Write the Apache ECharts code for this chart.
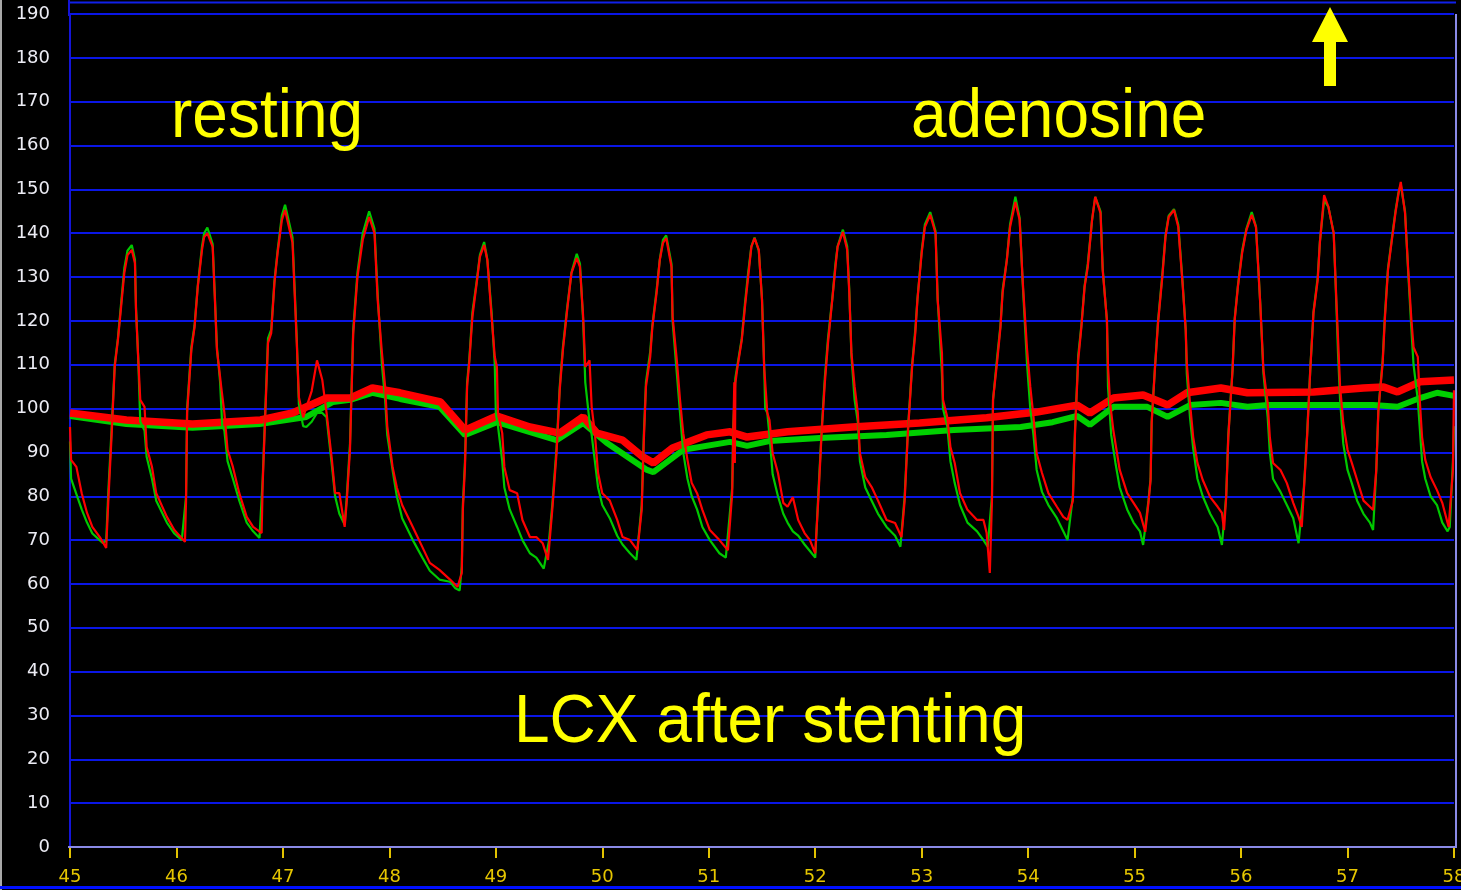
<!DOCTYPE html>
<html>
<head>
<meta charset="utf-8">
<script src="https://cdn.jsdelivr.net/npm/echarts@6/dist/echarts.min.js"></script>
<style>
html,body{margin:0;padding:0;background:#000;}
#chart{width:1461px;height:890px;}
</style>
</head>
<body>
<div id="chart"></div>
<script>
// ---- data (time in s, pressure in mmHg) ----
const xTicks = [45,46,47,48,49,50,51,52,53,54,55,56,57,58];
const yTicks = [0,10,20,30,40,50,60,70,80,90,100,110,120,130,140,150,160,170,180,190];

const pdPulse = [ // red pulsatile trace
[45.00,95.8],[45.01,88.3],[45.06,86.7],[45.11,80.7],[45.16,76.2],[45.21,73.0],[45.28,70.7],[45.34,68.2],
[45.36,79.0],[45.39,93.5],[45.42,109.5],[45.45,115.6],[45.48,123.2],[45.51,130.9],[45.54,135.0],[45.58,136.2],
[45.61,133.2],[45.62,122.5],[45.64,111.8],[45.66,102.0],[45.70,100.4],[45.72,91.2],[45.77,86.7],[45.81,80.7],[45.91,75.3],[45.98,72.3],[46.08,69.6],
[46.09,79.0],[46.10,99.0],[46.14,113.4],[46.17,118.6],[46.20,127.7],[46.24,136.2],[46.26,139.1],[46.29,140.0],
[46.34,136.9],[46.36,125.5],[46.38,113.4],[46.41,107.2],[46.42,105.0],[46.45,99.0],[46.48,90.6],[46.53,86.7],[46.59,80.7],[46.66,75.3],[46.72,73.0],[46.80,71.6],
[46.81,83.0],[46.83,95.8],[46.86,115.0],[46.89,117.2],[46.92,128.6],[46.95,135.5],[46.99,143.0],[47.02,145.3],
[47.09,137.8],[47.13,115.0],[47.15,102.6],[47.19,98.0],[47.27,104.0],[47.32,111.0],[47.37,106.5],[47.41,99.0],[47.46,88.3],[47.49,80.7],[47.53,80.7],[47.58,73.0],
[47.60,79.0],[47.63,90.6],[47.66,117.0],[47.70,130.0],[47.75,138.5],[47.81,143.7],
[47.86,140.0],[47.89,124.8],[47.93,112.7],[47.96,105.0],[47.98,96.0],[48.03,86.7],[48.07,82.0],[48.12,78.0],[48.22,73.0],[48.31,68.4],[48.38,64.8],[48.47,63.2],[48.57,61.0],[48.64,59.3],
[48.68,62.5],[48.69,76.9],[48.71,86.7],[48.73,105.0],[48.75,110.4],[48.78,121.0],[48.82,128.6],[48.85,134.6],[48.89,137.3],
[48.92,133.9],[48.96,121.0],[48.99,111.8],[49.01,109.5],[49.02,99.0],[49.06,94.4],[49.08,86.7],[49.13,81.4],[49.20,80.7],[49.25,74.6],[49.32,70.7],[49.38,70.7],[49.44,69.3],[49.49,65.5],
[49.53,76.9],[49.57,89.8],[49.60,104.2],[49.63,113.4],[49.67,122.5],[49.71,130.9],[49.76,134.3],
[49.79,132.3],[49.82,121.0],[49.84,109.5],[49.88,111.0],[49.90,100.4],[49.93,94.4],[49.96,85.3],[50.00,80.7],[50.07,79.0],[50.14,74.6],[50.19,70.7],[50.26,70.0],[50.33,67.7],
[50.37,76.9],[50.39,92.8],[50.41,105.0],[50.45,111.8],[50.47,118.6],[50.51,126.4],[50.54,133.9],[50.57,137.8],[50.60,138.9],
[50.65,132.3],[50.66,121.0],[50.70,111.0],[50.73,102.0],[50.76,94.4],[50.80,88.3],[50.84,83.0],[50.89,80.7],[50.94,76.9],[51.01,72.3],[51.10,70.0],[51.18,67.7],
[51.22,80.7],[51.23,94.4],[51.24,106.0],[51.245,87.6],[51.25,105.8],[51.27,109.5],[51.31,115.6],[51.34,123.2],[51.37,130.0],[51.40,136.9],[51.43,138.9],
[51.47,136.2],[51.50,124.8],[51.52,109.5],[51.55,99.0],[51.57,97.4],[51.60,89.8],[51.65,85.3],[51.70,78.5],[51.74,77.6],[51.79,79.8],[51.84,74.6],[51.90,71.6],[51.95,70.0],[52.00,67.0],
[52.03,79.8],[52.06,94.4],[52.09,105.8],[52.12,115.0],[52.16,124.8],[52.19,132.3],[52.21,136.9],[52.26,140.3],
[52.30,136.2],[52.32,126.4],[52.34,112.7],[52.37,105.0],[52.40,99.0],[52.42,89.8],[52.47,84.4],[52.53,82.1],[52.59,79.0],[52.67,74.6],[52.75,73.9],[52.81,70.7],
[52.84,79.0],[52.87,94.4],[52.91,109.5],[52.94,117.2],[52.96,124.8],[53.00,135.5],[53.03,141.4],[53.08,144.2],
[53.13,140.0],[53.15,124.8],[53.19,112.7],[53.20,102.0],[53.24,98.1],[53.27,91.2],[53.31,87.6],[53.36,80.7],[53.43,76.9],[53.52,74.6],[53.58,74.6],[53.61,71.6],[53.64,62.5],
[53.66,79.0],[53.67,102.0],[53.71,111.0],[53.74,118.6],[53.76,126.4],[53.80,133.9],[53.83,141.4],[53.88,147.1],
[53.92,143.0],[53.95,128.6],[53.99,113.4],[54.02,105.0],[54.05,98.1],[54.08,89.8],[54.13,85.3],[54.19,80.7],[54.27,77.6],[54.33,75.3],[54.37,74.6],
[54.42,79.0],[54.44,94.4],[54.47,111.0],[54.50,118.6],[54.53,127.7],[54.56,132.3],[54.60,143.0],[54.63,148.3],
[54.68,144.6],[54.70,131.6],[54.74,120.2],[54.75,109.5],[54.77,101.3],[54.80,95.1],[54.86,86.0],[54.93,80.7],[54.99,78.5],[55.05,76.2],[55.10,71.9],
[55.13,78.5],[55.15,83.7],[55.16,96.7],[55.19,108.8],[55.22,119.5],[55.26,130.0],[55.29,139.1],[55.32,143.7],[55.37,145.3],
[55.41,141.4],[55.45,128.6],[55.48,117.9],[55.49,110.4],[55.52,101.3],[55.55,93.5],[55.59,87.6],[55.64,83.7],[55.71,79.8],[55.78,77.6],[55.82,76.2],[55.84,72.3],
[55.86,79.8],[55.88,93.5],[55.92,108.8],[55.94,120.2],[55.97,127.7],[56.01,135.5],[56.05,140.7],[56.10,144.2],
[56.14,141.4],[56.18,124.0],[56.21,108.8],[56.25,101.3],[56.27,93.5],[56.30,87.6],[56.37,86.0],[56.43,83.0],[56.49,78.5],[56.54,75.3],[56.57,73.0],
[56.59,81.4],[56.62,93.5],[56.65,108.8],[56.68,121.8],[56.72,129.3],[56.74,137.8],[56.78,148.7],
[56.82,146.0],[56.87,140.0],[56.89,127.7],[56.91,116.3],[56.93,105.0],[56.96,96.7],[57.00,90.6],[57.04,87.6],[57.09,83.7],[57.15,79.0],[57.21,77.6],[57.24,76.9],
[57.27,86.0],[57.29,99.7],[57.33,110.4],[57.35,120.2],[57.38,131.6],[57.42,139.1],[57.45,144.6],[57.48,149.2],[57.50,151.7],
[57.54,144.6],[57.57,131.6],[57.60,120.2],[57.62,114.0],[57.66,111.8],[57.68,101.3],[57.70,93.5],[57.73,88.3],[57.78,84.4],[57.84,81.4],[57.89,78.5],[57.94,73.9],[57.95,73.0],
[57.99,86.0],[58.00,104.2]
];

const paPulse = [ // green pulsatile trace
[45.00,92.5],[45.01,84],[45.06,80.5],[45.11,77],[45.16,74],[45.21,71.5],[45.31,69.3],[45.34,70],
[45.36,81],[45.39,95],[45.42,110],[45.45,116],[45.48,124],[45.51,132],[45.54,136],[45.58,137.3],
[45.61,134],[45.62,123],[45.64,112],[45.66,97],[45.70,95],[45.72,89],[45.77,84],[45.81,79],[45.91,74],[45.98,71.5],[46.05,70],
[46.09,80],[46.10,100],[46.14,114],[46.17,119],[46.20,128],[46.24,137],[46.26,140],[46.29,141.3],
[46.34,137.5],[46.36,126],[46.38,114],[46.41,106],[46.43,96],[46.45,95],[46.48,88],[46.53,84],[46.59,79],[46.66,74],[46.72,72],[46.78,70.5],
[46.81,84],[46.83,97],[46.86,116],[46.89,118],[46.92,129],[46.95,136],[46.99,144],[47.02,146.5],
[47.09,139],[47.13,116],[47.15,101],[47.19,96],[47.22,95.8],[47.27,97],[47.32,99],[47.37,99],[47.41,98],[47.46,87],[47.49,80],[47.53,76],[47.58,73.5],
[47.60,80],[47.63,92],[47.66,118],[47.70,131],[47.75,140],[47.81,145],
[47.86,141],[47.89,126],[47.93,110],[47.96,102],[47.98,94],[48.03,86],[48.07,80],[48.12,75],[48.22,70],[48.31,66],[48.38,63],[48.47,61],[48.57,60.5],[48.62,59],[48.66,58.5],
[48.68,64],[48.69,78],[48.71,88],[48.73,106],[48.75,111],[48.78,122],[48.82,129],[48.85,135],[48.89,138],
[48.92,134],[48.96,122],[48.99,110],[49.00,99],[49.02,96],[49.06,88],[49.08,82],[49.13,77],[49.20,73],[49.25,70],[49.32,67],[49.38,66],[49.45,63.5],
[49.50,70],[49.53,78],[49.57,91],[49.60,105],[49.63,114],[49.67,123],[49.71,131],[49.76,135.3],
[49.79,133],[49.82,120],[49.84,106],[49.88,97],[49.90,94],[49.93,88],[49.96,82],[50.00,78],[50.07,75],[50.14,71],[50.19,69],[50.26,67],[50.32,65.5],
[50.37,78],[50.39,94],[50.41,106],[50.45,113],[50.47,119],[50.51,127],[50.54,134],[50.57,138.5],[50.60,139.5],
[50.65,133],[50.66,120],[50.70,108],[50.73,99],[50.76,90],[50.80,84],[50.84,80],[50.89,77],[50.94,73],[51.01,70],[51.10,67],[51.16,66],
[51.22,82],[51.23,96],[51.25,107],[51.27,110],[51.31,116],[51.34,124],[51.37,131],[51.40,137],[51.43,139],
[51.47,136],[51.50,125],[51.52,110],[51.53,100],[51.55,99],[51.57,94],[51.60,85],[51.65,80],[51.70,76],[51.74,74],[51.79,72],[51.84,71],[51.90,69],[51.95,67.5],[52.00,66],
[52.03,81],[52.06,95],[52.09,107],[52.12,116],[52.16,125],[52.19,133],[52.21,137],[52.26,140.8],
[52.30,137],[52.32,127],[52.34,112],[52.37,102],[52.40,97],[52.42,88],[52.47,82],[52.53,79],[52.59,76],[52.67,73],[52.75,71],[52.80,68.5],
[52.84,80],[52.87,95],[52.91,110],[52.94,118],[52.96,125],[53.00,136],[53.03,142],[53.08,144.8],
[53.13,140.5],[53.15,125],[53.19,108],[53.20,100],[53.24,96],[53.27,88],[53.31,83],[53.36,78],[53.43,74],[53.52,72],[53.58,70],[53.62,68.5],
[53.66,80],[53.67,102],[53.71,112],[53.74,119],[53.76,127],[53.80,134],[53.83,142],[53.88,148.3],
[53.92,143.5],[53.95,128],[53.99,110],[54.02,100],[54.05,94],[54.08,86],[54.13,81],[54.19,78],[54.27,75],[54.33,72],[54.37,70],
[54.42,80],[54.44,95],[54.47,112],[54.50,119],[54.53,128],[54.56,133],[54.60,143],[54.63,148.3],
[54.68,145],[54.70,132],[54.74,120],[54.75,105],[54.78,94],[54.82,87.6],[54.86,82],[54.93,77],[54.99,74],[55.05,72],[55.08,68.9],
[55.13,79],[55.15,84],[55.16,97],[55.19,109],[55.22,120],[55.26,130.5],[55.29,139.5],[55.32,144],[55.37,145.5],
[55.41,142],[55.45,129],[55.48,118],[55.49,108],[55.52,98],[55.55,91],[55.59,84],[55.64,80],[55.71,76],[55.78,73],[55.82,68.9],
[55.86,80],[55.88,94],[55.92,109],[55.94,120.5],[55.97,128],[56.01,136],[56.05,141],[56.10,144.8],
[56.14,141.5],[56.18,124],[56.21,108],[56.25,98],[56.27,90],[56.30,84],[56.37,81],[56.43,78],[56.49,75],[56.54,69.3],
[56.59,82],[56.62,94],[56.65,109],[56.68,122],[56.72,130],[56.74,138],[56.78,147.5],
[56.82,146],[56.87,140],[56.89,127],[56.91,113],[56.93,102],[56.96,92],[57.00,86],[57.04,83],[57.09,79],[57.15,76],[57.21,74],[57.24,72.3],
[57.27,86],[57.29,100],[57.33,111],[57.35,121],[57.38,132],[57.42,139.5],[57.45,145],[57.48,149.5],[57.50,151],
[57.54,145],[57.57,131],[57.60,118],[57.62,110],[57.66,102],[57.68,95],[57.70,88],[57.73,84],[57.78,80],[57.84,78],[57.89,74],[57.94,72],[57.96,73],
[57.99,88],[58.00,96]
];

const pdMean = [ // thick red mean trace
[45.00,99.0],[45.53,97.4],[46.15,96.5],[46.79,97.4],[47.09,99.0],[47.41,102.4],[47.63,102.4],[47.84,104.7],[48.10,103.6],
[48.48,101.5],[48.71,95.1],[49.01,98.3],[49.32,95.8],[49.60,94.4],[49.82,98.1],[49.95,94.4],[50.19,92.8],[50.38,89.0],
[50.48,87.6],[50.66,91.0],[50.98,94.0],[51.20,94.7],[51.36,93.5],
[51.74,94.7],[52.35,95.8],[52.98,96.7],[53.61,97.9],[54.08,99.2],[54.46,100.8],[54.58,99.0],[54.80,102.4],[55.08,103.1],
[55.19,102.0],[55.31,100.8],[55.49,103.6],[55.81,104.7],[56.06,103.6],[56.68,103.8],[57.15,104.7],[57.34,104.9],
[57.47,103.8],[57.68,106.1],[58.00,106.5]
];

const paMean = [ // thick green mean trace
[45.00,98.3],[45.53,96.5],[46.15,95.6],[46.78,96.5],[47.22,98.1],[47.47,101.5],[47.63,102.0],[47.84,103.6],[48.10,102.2],
[48.47,100.4],[48.71,94.0],[49.01,96.9],[49.57,92.8],[49.82,96.7],[50.04,92.2],[50.42,86.0],[50.48,85.5],[50.76,90.6],
[51.20,92.4],[51.36,91.5],[51.57,92.6],[52.04,93.3],[52.67,94.0],[53.30,95.1],[53.93,95.8],[54.23,96.9],[54.46,98.3],
[54.58,96.3],[54.80,100.4],[55.12,100.4],[55.31,98.1],[55.52,100.8],[55.81,101.3],[56.06,100.4],[56.25,100.8],[57.24,100.8],
[57.47,100.4],[57.68,102.4],[57.84,103.6],[58.00,102.9]
];

const annotations = ['resting', 'adenosine', 'LCX after stenting'];

// ---- chart ----
const chart = echarts.init(document.getElementById('chart'), null, {renderer: 'canvas'});
const lineSeries = (data, color, width, z) => ({
  type: 'line', data: data, showSymbol: false, symbol: 'none', silent: true,
  lineStyle: {color: color, width: width, join: 'bevel'}, z: z, animation: false
});
const yellowFont = '64px "Liberation Sans", Arial, sans-serif';

chart.setOption({
  backgroundColor: '#000000',
  animation: false,
  grid: {left: 70, right: 7, top: 14, bottom: 43, containLabel: false, outerBoundsMode: 'none'},
  xAxis: {
    type: 'value', min: xTicks[0], max: xTicks[xTicks.length - 1], interval: 1,
    offset: 4,
    axisLine: {show: false},
    axisTick: {show: true, length: 11, lineStyle: {color: '#e2c200', width: 2}},
    axisLabel: {color: '#e6c600', fontSize: 18, fontFamily: 'DejaVu Sans', margin: 17},
    splitLine: {show: false}
  },
  yAxis: {
    type: 'value', min: yTicks[0], max: yTicks[yTicks.length - 1], interval: 10,
    axisLine: {show: true, lineStyle: {color: '#1414d8', width: 2}},
    axisTick: {show: false},
    axisLabel: {color: '#ececf4', fontSize: 18, fontFamily: 'DejaVu Sans', margin: 20},
    splitLine: {show: true, lineStyle: {color: '#0a16e6', width: 2}}
  },
  series: [
    lineSeries(paMean, '#00d000', 6, 2),
    lineSeries(pdMean, '#ff0000', 7.5, 3),
    lineSeries(paPulse, '#00c800', 2.2, 4),
    lineSeries(pdPulse, '#ff0000', 2.2, 5)
  ],
  graphic: [
    {type: 'line', shape: {x1: 1, y1: 0, x2: 1, y2: 890}, style: {stroke: '#a8a8a8', lineWidth: 2}, z: 10},
    {type: 'line', shape: {x1: 68, y1: 2.5, x2: 1456, y2: 2.5}, style: {stroke: '#1020e8', lineWidth: 2}, z: 10},
    {type: 'line', shape: {x1: 69, y1: 0, x2: 69, y2: 16}, style: {stroke: '#1414d8', lineWidth: 2}, z: 10},
    {type: 'line', shape: {x1: 1456, y1: 14, x2: 1456, y2: 848}, style: {stroke: '#8a8ae6', lineWidth: 2}, z: 10},
    {type: 'line', shape: {x1: 68, y1: 847, x2: 1457, y2: 847}, style: {stroke: '#8a8ae6', lineWidth: 2}, z: 10},
    {type: 'line', shape: {x1: 0, y1: 887.5, x2: 1461, y2: 887.5}, style: {stroke: '#0010ff', lineWidth: 3}, z: 10},
    {type: 'polygon', shape: {points: [[1330,7],[1348,42],[1336,42],[1336,86],[1324,86],[1324,42],[1312,42]]},
      style: {fill: '#ffff00'}, z: 10},
    {type: 'text', x: 171, y: 118, scaleY: 1.07,
      style: {text: annotations[0], fill: '#ffff00', font: yellowFont, verticalAlign: 'middle'}, z: 10},
    {type: 'text', x: 911, y: 118, scaleY: 1.07,
      style: {text: annotations[1], fill: '#ffff00', font: yellowFont, verticalAlign: 'middle'}, z: 10},
    {type: 'text', x: 514, y: 723, scaleY: 1.07,
      style: {text: annotations[2], fill: '#ffff00', font: yellowFont, verticalAlign: 'middle'}, z: 10}
  ]
});
</script>
</body>
</html>
